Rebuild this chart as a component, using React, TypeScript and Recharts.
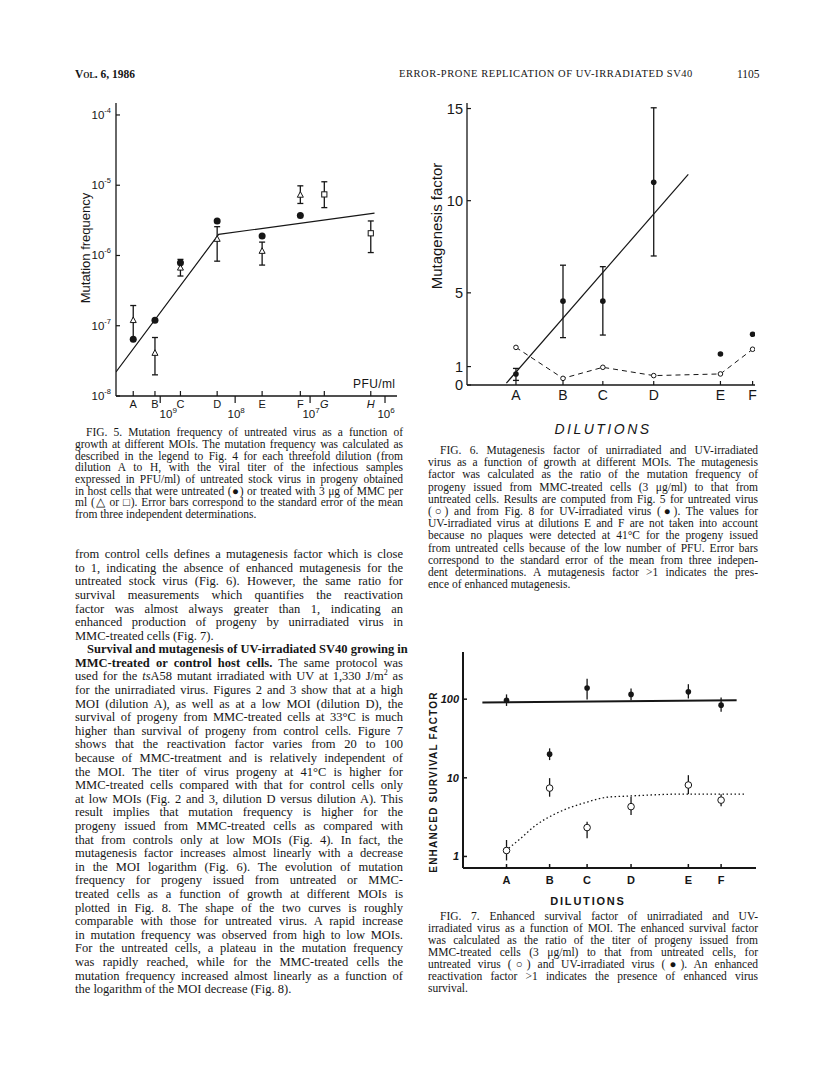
import React from 'react';
import { ScatterChart, Scatter, XAxis, YAxis, ErrorBar } from 'recharts';

const ink = '#161616';
const sans = '"Liberation Sans", Arial, sans-serif';
const serif = '"Liberation Serif", "Times New Roman", serif';

// ---- Fig. 5 : mutation frequency vs dilution (x = log10 PFU/ml)
const f5Letters = ['A', 'B', 'C', 'D', 'E', 'F', 'G', 'H'];
const f5LetterPos = [9.36, 9.07, 8.73, 8.24, 7.64, 7.13, 6.81, 6.19];
const f5Decades = [9, 8, 7, 6];
const f5YTicks = [1e-8, 1e-7, 1e-6, 1e-5, 1e-4];

const f5DotLetters = ['A', 'B', 'C', 'D', 'E', 'F'];
const f5Dot = [6.4e-8, 1.2e-7, 7.9e-7, 3.1e-6, 1.9e-6, 3.7e-6];

const f5TriLetters = ['A', 'B', 'C', 'D', 'E', 'F'];
const f5Tri = [1.2e-7, 4.1e-8, 6.7e-7, 1.72e-6, 1.16e-6, 7.3e-6];
const f5TriLo = [6.3e-8, 2.0e-8, 5.1e-7, 8.3e-7, 7.3e-7, 5.5e-6];
const f5TriHi = [1.94e-7, 6.8e-8, 8.8e-7, 2.57e-6, 1.55e-6, 9.8e-6];

const f5SqLetters = ['G', 'H'];
const f5Sq = [7.4e-6, 2.07e-6];
const f5SqLo = [4.8e-6, 1.1e-6];
const f5SqHi = [1.12e-5, 3.1e-6];

const f5FitX = [9.59, 8.22, 6.14];
const f5FitY = [2.2e-8, 2.0e-6, 4.0e-6];

// ---- Fig. 6 : mutagenesis factor
const f6Letters = ['A', 'B', 'C', 'D', 'E', 'F'];
const f6Pos = [1.02, 2.0, 2.83, 3.89, 5.28, 5.95];
const f6YTicks = [0, 1, 5, 10, 15];
const f6UV = [0.6, 4.55, 4.55, 11.0, 1.68, 2.75];
const f6UVLo = [0.25, 2.57, 2.71, 7.0];
const f6UVHi = [0.9, 6.5, 6.42, 15.04];
const f6Unirr = [2.04, 0.36, 0.96, 0.51, 0.6, 1.94];
const f6FitX = [0.82, 4.61];
const f6FitY = [0.1, 11.43];

// ---- Fig. 7 : enhanced survival factor
const f7Letters = ['A', 'B', 'C', 'D', 'E', 'F'];
const f7Pos = [1.01, 2.01, 2.88, 3.9, 5.23, 5.99];
const f7YTicks = [1, 10, 100];
const f7UV = [97, 20, 139, 115, 124, 84];
const f7UVLo = [82, 16.8, 99, 97, 102, 69];
const f7UVHi = [115, 23.7, 182, 137, 155, 105];
const f7Unirr = [1.19, 7.4, 2.33, 4.3, 8.1, 5.2];
const f7UnirrLo = [0.89, 5.75, 1.7, 3.37, 6.2, 4.36];
const f7UnirrHi = [1.62, 9.9, 2.76, 5.75, 10.8, 6.2];
const f7FitX = [0.45, 6.35];
const f7FitY = [90.7, 97];
const f7CurveX = [0.99, 1.32, 1.7, 2.09, 2.48, 2.87, 3.33, 3.87, 5.19, 6.54];
const f7CurveY = [1.19, 1.66, 2.52, 3.37, 4.18, 4.89, 5.66, 5.87, 6.22, 6.22];

// ---- text
const fig5Caption = [
  'FIG. 5. Mutation frequency of untreated virus as a function of',
  'growth at different MOIs. The mutation frequency was calculated as',
  'described in the legend to Fig. 4 for each threefold dilution (from',
  'dilution A to H, with the viral titer of the infectious samples',
  'expressed in PFU/ml) of untreated stock virus in progeny obtained',
  'in host cells that were untreated (\u25CF) or treated with 3 \u03BCg of MMC per',
  'ml (\u25B3 or \u25A1). Error bars correspond to the standard error of the mean',
  'from three independent determinations.',
];

const fig6Caption = [
  'FIG. 6. Mutagenesis factor of unirradiated and UV-irradiated',
  'virus as a function of growth at different MOIs. The mutagenesis',
  'factor was calculated as the ratio of the mutation frequency of',
  'progeny issued from MMC-treated cells (3 \u03BCg/ml) to that from',
  'untreated cells. Results are computed from Fig. 5 for untreated virus',
  '(\u25CB) and from Fig. 8 for UV-irradiated virus (\u25CF). The values for',
  'UV-irradiated virus at dilutions E and F are not taken into account',
  'because no plaques were detected at 41\u00B0C for the progeny issued',
  'from untreated cells because of the low number of PFU. Error bars',
  'correspond to the standard error of the mean from three indepen-',
  'dent determinations. A mutagenesis factor >1 indicates the pres-',
  'ence of enhanced mutagenesis.',
];

const fig7Caption = [
  'FIG. 7. Enhanced survival factor of unirradiated and UV-',
  'irradiated virus as a function of MOI. The enhanced survival factor',
  'was calculated as the ratio of the titer of progeny issued from',
  'MMC-treated cells (3 \u03BCg/ml) to that from untreated cells, for',
  'untreated virus (\u25CB) and UV-irradiated virus (\u25CF). An enhanced',
  'reactivation factor >1 indicates the presence of enhanced virus',
  'survival.',
];

const bodyPara1 = [
  'from control cells defines a mutagenesis factor which is close',
  'to 1, indicating the absence of enhanced mutagenesis for the',
  'untreated stock virus (Fig. 6). However, the same ratio for',
  'survival measurements which quantifies the reactivation',
  'factor was almost always greater than 1, indicating an',
  'enhanced production of progeny by unirradiated virus in',
  'MMC-treated cells (Fig. 7).',
];

const bodyPara2 = [
  'for the unirradiated virus. Figures 2 and 3 show that at a high',
  'MOI (dilution A), as well as at a low MOI (dilution D), the',
  'survival of progeny from MMC-treated cells at 33\u00B0C is much',
  'higher than survival of progeny from control cells. Figure 7',
  'shows that the reactivation factor varies from 20 to 100',
  'because of MMC-treatment and is relatively independent of',
  'the MOI. The titer of virus progeny at 41\u00B0C is higher for',
  'MMC-treated cells compared with that for control cells only',
  'at low MOIs (Fig. 2 and 3, dilution D versus dilution A). This',
  'result implies that mutation frequency is higher for the',
  'progeny issued from MMC-treated cells as compared with',
  'that from controls only at low MOIs (Fig. 4). In fact, the',
  'mutagenesis factor increases almost linearly with a decrease',
  'in the MOI logarithm (Fig. 6). The evolution of mutation',
  'frequency for progeny issued from untreated or MMC-',
  'treated cells as a function of growth at different MOIs is',
  'plotted in Fig. 8. The shape of the two curves is roughly',
  'comparable with those for untreated virus. A rapid increase',
  'in mutation frequency was observed from high to low MOIs.',
  'For the untreated cells, a plateau in the mutation frequency',
  'was rapidly reached, while for the MMC-treated cells the',
  'mutation frequency increased almost linearly as a function of',
  'the logarithm of the MOI decrease (Fig. 8).',
];

// ---- helpers
const pts = (xs: number[], ys: number[]) => xs.map((x, i) => ({ x, y: ys[i] }));
const withErr = (xs: number[], ys: number[], lo: number[], hi: number[]) =>
  xs.map((x, i) => ({ x, y: ys[i], err: [ys[i] - lo[i], hi[i] - ys[i]] }));
const f5x = (letters: string[]) => letters.map((l) => f5LetterPos[f5Letters.indexOf(l)]);

const noDot = () => <g />;
const filled = (r: number) => (p: any) => <circle cx={p.cx} cy={p.cy} r={r} fill={ink} />;
const hollow = (r: number, w = 1) => (p: any) => (
  <circle cx={p.cx} cy={p.cy} r={r} fill="#fff" stroke={ink} strokeWidth={w} />
);
const triangle = (p: any) => (
  <polygon
    points={`${p.cx},${p.cy - 3.2} ${p.cx + 3},${p.cy + 2.4} ${p.cx - 3},${p.cy + 2.4}`}
    fill="#fff" stroke={ink} strokeWidth={1}
  />
);
const square = (p: any) => (
  <rect x={p.cx - 2.6} y={p.cy - 2.6} width={5.2} height={5.2} fill="#fff" stroke={ink} strokeWidth={1} />
);

const Fig5XTick = (props: any) => {
  const { x, y, payload } = props;
  const v = payload.value;
  if (f5Decades.includes(v)) {
    // the 10^9 label sits a little to the right of its tick in the original
    const dx = v === 9 ? 8 : 1;
    return (
      <g>
        <line x1={x} y1={y} x2={x} y2={y + 7} stroke={ink} strokeWidth={1.2} />
        <text x={x + dx} y={y + 22} textAnchor="middle" fontSize={11.5} fill={ink} fontFamily={sans}>
          10<tspan dy={-5} fontSize={8}>{v}</tspan>
        </text>
      </g>
    );
  }
  const l = f5Letters[f5LetterPos.indexOf(v)];
  const it = l === 'G' || l === 'H';
  return (
    <g>
      <line x1={x} y1={y} x2={x} y2={y - 5} stroke={ink} strokeWidth={1.2} />
      <text x={x} y={y + 12} textAnchor="middle" fontSize={11} fill={ink} fontFamily={sans}
        fontStyle={it ? 'italic' : 'normal'}>{l}</text>
    </g>
  );
};

const Fig5YTick = (props: any) => {
  const { x, y, payload } = props;
  const e = Math.round(Math.log10(payload.value));
  return (
    <g>
      <line x1={x} y1={y} x2={x + 4} y2={y} stroke={ink} strokeWidth={1.2} />
      <text x={x - 5} y={y + 4} textAnchor="end" fontSize={11.5} fill={ink} fontFamily={sans}>
        10<tspan dy={-6} fontSize={7.5}>{e}</tspan>
      </text>
    </g>
  );
};

const Fig6XTick = (props: any) => {
  const { x, y, payload } = props;
  const l = f6Letters[f6Pos.indexOf(payload.value)];
  return (
    <g>
      <line x1={x} y1={y} x2={x} y2={y - 4} stroke={ink} strokeWidth={1.2} />
      <text x={x} y={y + 15} textAnchor="middle" fontSize={14} fill={ink} fontFamily={sans}>{l}</text>
    </g>
  );
};

const Fig6YTick = (props: any) => {
  const { x, y, payload } = props;
  return (
    <g>
      <line x1={x} y1={y} x2={x + 4} y2={y} stroke={ink} strokeWidth={1.2} />
      <text x={x - 4} y={y + 5} textAnchor="end" fontSize={14.5} fill={ink} fontFamily={sans}>{payload.value}</text>
    </g>
  );
};

const Fig7XTick = (props: any) => {
  const { x, y, payload } = props;
  const l = f7Letters[f7Pos.indexOf(payload.value)];
  return (
    <g>
      <line x1={x} y1={y} x2={x} y2={y - 4} stroke={ink} strokeWidth={1.5} />
      <text x={x} y={y + 16} textAnchor="middle" fontSize={11} fontWeight="bold" fill={ink} fontFamily={sans}>{l}</text>
    </g>
  );
};

const Fig7YTick = (props: any) => {
  const { x, y, payload } = props;
  return (
    <g>
      <line x1={x} y1={y} x2={x + 4} y2={y} stroke={ink} strokeWidth={1.5} />
      <text x={x - 4} y={y + 4} textAnchor="end" fontSize={11} fontWeight="bold" fontStyle="italic"
        fill={ink} fontFamily={sans}>{payload.value}</text>
    </g>
  );
};

// ---- text blocks
type LinesProps = {
  x: number; y: number; lh: number; width: number; size: number;
  lines: React.ReactNode[]; indent?: number; lastLeft?: boolean;
};
const Lines: React.FC<LinesProps> = ({ x, y, lh, width, size, lines, indent = 0, lastLeft = true }) => (
  <>
    {lines.map((ln, i) => {
      const last = lastLeft && i === lines.length - 1;
      const ind = i === 0 ? indent : 0;
      return (
        <div key={i} style={{
          position: 'absolute', left: x + ind, top: y + i * lh - lh / 2, width: width - ind,
          height: lh, lineHeight: `${lh}px`, fontSize: size, fontFamily: serif, color: ink,
          whiteSpace: 'nowrap', textAlign: last ? 'left' : 'justify', textAlignLast: last ? 'left' : 'justify',
        } as React.CSSProperties}>{ln}</div>
      );
    })}
  </>
);

const Rot: React.FC<{ cx: number; cy: number; style: React.CSSProperties; children: React.ReactNode }> = ({ cx, cy, style, children }) => (
  <div style={{
    position: 'absolute', left: cx, top: cy, transform: 'translate(-50%, -50%) rotate(-90deg)',
    whiteSpace: 'nowrap', color: ink, ...style,
  }}>{children}</div>
);

const Abs: React.FC<{ cx: number; cy: number; style: React.CSSProperties; children: React.ReactNode }> = ({ cx, cy, style, children }) => (
  <div style={{
    position: 'absolute', left: cx, top: cy, transform: 'translate(-50%, -50%)',
    whiteSpace: 'nowrap', color: ink, ...style,
  }}>{children}</div>
);

const App: React.FC = () => {
  const f5DotData = pts(f5x(f5DotLetters), f5Dot);
  const f5TriData = withErr(f5x(f5TriLetters), f5Tri, f5TriLo, f5TriHi);
  const f5SqData = withErr(f5x(f5SqLetters), f5Sq, f5SqLo, f5SqHi);

  const f6UVBars = withErr(f6Pos.slice(0, 4), f6UV.slice(0, 4), f6UVLo, f6UVHi);
  const f6UVNoBars = pts(f6Pos.slice(4), f6UV.slice(4));

  const para2: React.ReactNode[] = [
    <b>Survival and mutagenesis of UV-irradiated SV40 growing in</b>,
    <span><b>MMC-treated or control host cells.</b> The same protocol was</span>,
    <span>used for the <i>ts</i>A58 mutant irradiated with UV at 1,330 J/m<sup style={{ fontSize: 8, lineHeight: 0 }}>2</sup> as</span>,
    ...bodyPara2,
  ];

  return (
    <div style={{ position: 'absolute', left: 0, top: 0, width: 816, height: 1077, background: '#fff', overflow: 'hidden' }}>
      {/* running head */}
      <div style={{ position: 'absolute', left: 75, top: 68, fontFamily: serif, fontSize: 11.5, fontWeight: 'bold', color: ink, fontVariant: 'small-caps' }}>
        Vol. 6, 1986
      </div>
      <div style={{ position: 'absolute', left: 399, top: 68, fontFamily: serif, fontSize: 10.5, letterSpacing: 0.55, color: ink }}>
        ERROR-PRONE REPLICATION OF UV-IRRADIATED SV40
      </div>
      <div style={{ position: 'absolute', left: 737, top: 68, fontFamily: serif, fontSize: 11.5, color: ink }}>1105</div>

      {/* Fig. 5 */}
      <div style={{ position: 'absolute', left: 60, top: 90 }}>
        <ScatterChart width={350} height={330} margin={{ top: 13, right: 13, left: 0, bottom: 0 }}>
          <XAxis type="number" dataKey="x" domain={[5.84, 9.59]} reversed allowDataOverflow
            ticks={[...f5LetterPos, ...f5Decades]} interval={0} tickSize={0} tickMargin={0} tickLine={false}
            tick={<Fig5XTick />} height={24} axisLine={{ stroke: ink, strokeWidth: 1.3 }} />
          <YAxis type="number" dataKey="y" scale="log" domain={[1e-8, 1.48e-4]} allowDataOverflow
            ticks={f5YTicks} interval={0} tickSize={0} tickMargin={0} tickLine={false}
            tick={<Fig5YTick />} width={56} axisLine={{ stroke: ink, strokeWidth: 1.3 }} />
          <Scatter data={pts(f5FitX, f5FitY)} line={{ stroke: ink, strokeWidth: 1.2 }} shape={noDot} isAnimationActive={false} />
          <Scatter data={f5TriData} shape={triangle} isAnimationActive={false}>
            <ErrorBar dataKey="err" direction="y" width={3} stroke={ink} strokeWidth={1.3} isAnimationActive={false} />
          </Scatter>
          <Scatter data={f5SqData} shape={square} isAnimationActive={false}>
            <ErrorBar dataKey="err" direction="y" width={3} stroke={ink} strokeWidth={1.3} isAnimationActive={false} />
          </Scatter>
          <Scatter data={f5DotData} shape={filled(3.5)} isAnimationActive={false} />
        </ScatterChart>
      </div>
      <Rot cx={85} cy={248} style={{ fontFamily: sans, fontSize: 13 }}>Mutation frequency</Rot>
      <div style={{ position: 'absolute', left: 353, top: 377, fontFamily: sans, fontSize: 12, letterSpacing: 0.4, color: ink }}>PFU/ml</div>

      {/* Fig. 6 */}
      <div style={{ position: 'absolute', left: 420, top: 90 }}>
        <ScatterChart width={345} height={320} margin={{ top: 13, right: 10, left: 0, bottom: 0 }}>
          <XAxis type="number" dataKey="x" domain={[0, 6]} allowDataOverflow
            ticks={f6Pos} interval={0} tickSize={0} tickMargin={0} tickLine={false}
            tick={<Fig6XTick />} height={25} axisLine={{ stroke: ink, strokeWidth: 1.3 }} />
          <YAxis type="number" dataKey="y" domain={[0, 15.3]} allowDataOverflow
            ticks={f6YTicks} interval={0} tickSize={0} tickMargin={0} tickLine={false}
            tick={<Fig6YTick />} width={47} axisLine={{ stroke: ink, strokeWidth: 1.3 }} />
          <Scatter data={pts(f6FitX, f6FitY)} line={{ stroke: ink, strokeWidth: 1.2 }} shape={noDot} isAnimationActive={false} />
          <Scatter data={pts(f6Pos, f6Unirr)} line={{ stroke: ink, strokeWidth: 1, strokeDasharray: '5 4' }}
            shape={hollow(2.3)} isAnimationActive={false} />
          <Scatter data={f6UVBars} shape={filled(2.8)} isAnimationActive={false}>
            <ErrorBar dataKey="err" direction="y" width={3} stroke={ink} strokeWidth={1.3} isAnimationActive={false} />
          </Scatter>
          <Scatter data={f6UVNoBars} shape={filled(2.8)} isAnimationActive={false} />
        </ScatterChart>
      </div>
      <Rot cx={436} cy={226} style={{ fontFamily: sans, fontSize: 15 }}>Mutagenesis factor</Rot>
      <Abs cx={603} cy={429} style={{ fontFamily: sans, fontSize: 14, fontStyle: 'italic', letterSpacing: 2.5 }}>DILUTIONS</Abs>

      {/* Fig. 7 */}
      <div style={{ position: 'absolute', left: 420, top: 640 }}>
        <ScatterChart width={345} height={255} margin={{ top: 12, right: 9, left: 0, bottom: 0 }}>
          <XAxis type="number" dataKey="x" domain={[0, 6.8]} allowDataOverflow
            ticks={f7Pos} interval={0} tickSize={0} tickMargin={0} tickLine={false}
            tick={<Fig7XTick />} height={27} axisLine={{ stroke: ink, strokeWidth: 2 }} />
          <YAxis type="number" dataKey="y" scale="log" domain={[0.713, 398]} allowDataOverflow
            ticks={f7YTicks} interval={0} tickSize={0} tickMargin={0} tickLine={false}
            tick={<Fig7YTick />} width={43} axisLine={{ stroke: ink, strokeWidth: 2 }} />
          <Scatter data={pts(f7FitX, f7FitY)} line={{ stroke: ink, strokeWidth: 2 }} shape={noDot} isAnimationActive={false} />
          <Scatter data={pts(f7CurveX, f7CurveY)} line={{ stroke: ink, strokeWidth: 1.3, strokeDasharray: '1.5 2.5' }}
            lineJointType="monotoneX" shape={noDot} isAnimationActive={false} />
          <Scatter data={withErr(f7Pos, f7Unirr, f7UnirrLo, f7UnirrHi)} shape={hollow(3.3)} isAnimationActive={false}>
            <ErrorBar dataKey="err" direction="y" width={0} stroke={ink} strokeWidth={1.3} isAnimationActive={false} />
          </Scatter>
          <Scatter data={withErr(f7Pos, f7UV, f7UVLo, f7UVHi)} shape={filled(2.8)} isAnimationActive={false}>
            <ErrorBar dataKey="err" direction="y" width={0} stroke={ink} strokeWidth={1.3} isAnimationActive={false} />
          </Scatter>
        </ScatterChart>
      </div>
      <Rot cx={433} cy={782} style={{ fontFamily: sans, fontSize: 10, fontWeight: 'bold', letterSpacing: 1.2 }}>ENHANCED SURVIVAL FACTOR</Rot>
      <Abs cx={588} cy={901} style={{ fontFamily: sans, fontSize: 11, fontWeight: 'bold', letterSpacing: 1.8 }}>DILUTIONS</Abs>

      {/* captions */}
      <Lines x={75} y={433} lh={11.7} width={328} size={11.5} indent={11} lines={fig5Caption} />
      <Lines x={428} y={450} lh={12.2} width={330} size={11.5} indent={12} lines={fig6Caption} />
      <Lines x={428} y={916} lh={12} width={330} size={11.5} indent={12} lines={fig7Caption} />

      {/* body text */}
      <Lines x={75} y={555} lh={13.6} width={328} size={12.5} lines={bodyPara1} />
      <Lines x={75} y={650} lh={13.6} width={328} size={12.5} indent={12} lines={para2} />
    </div>
  );
};

export default App;
